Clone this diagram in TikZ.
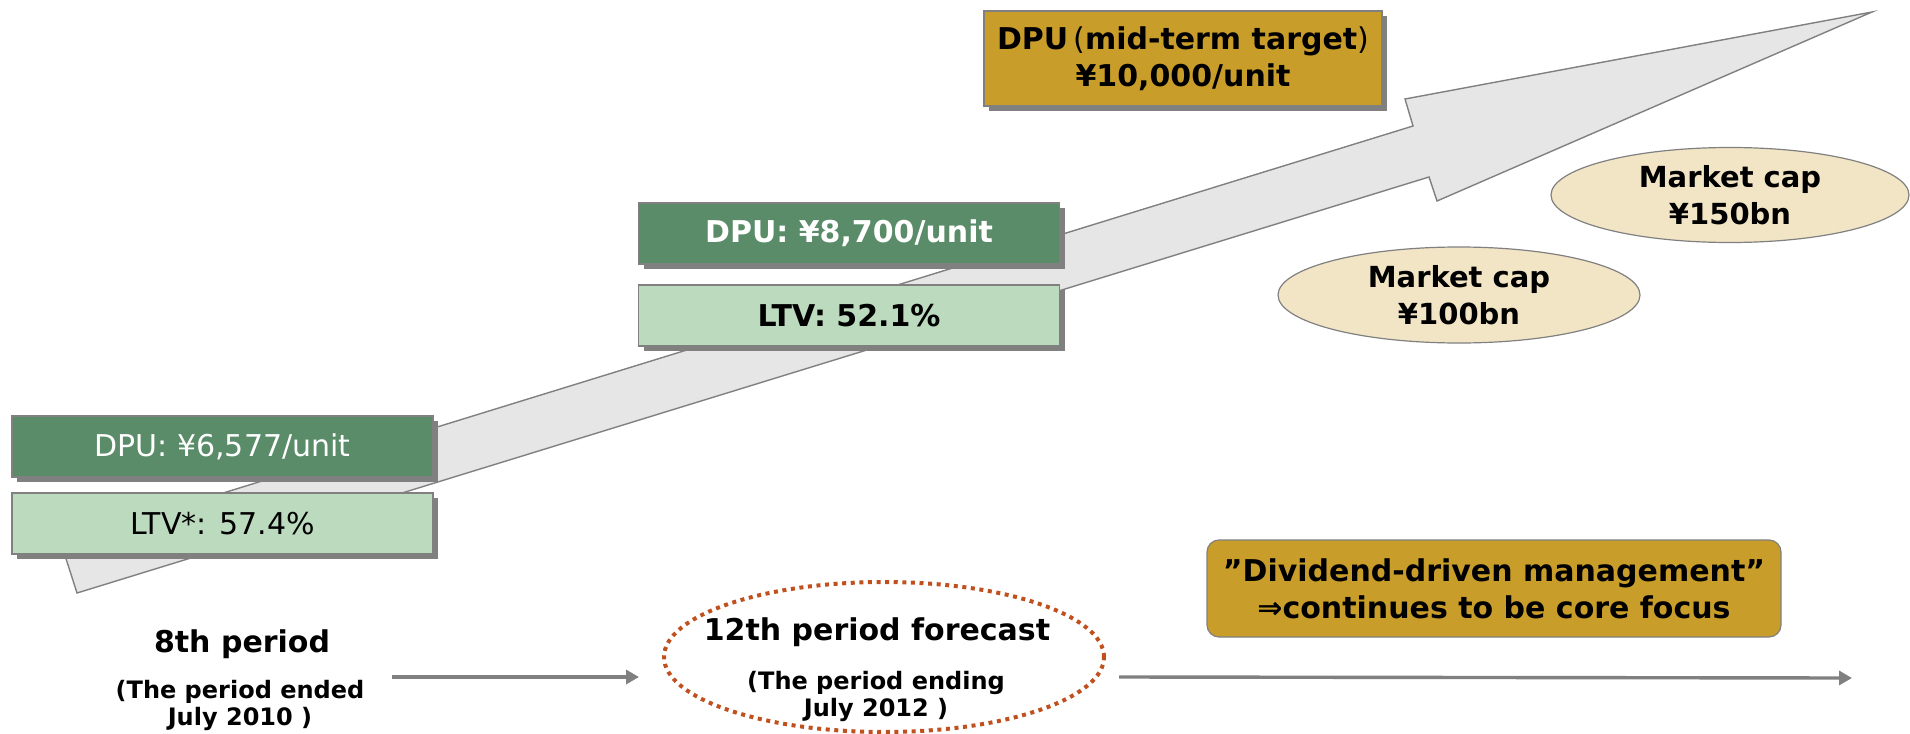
\documentclass[tikz,border=0pt]{standalone}
\usepackage{fontspec}
\setmainfont{DejaVu Sans}
\usetikzlibrary{shapes.geometric,shadows,arrows.meta}
\definecolor{dgreen}{RGB}{91,140,105}
\definecolor{lgreen}{RGB}{188,218,190}
\definecolor{goldc}{RGB}{201,157,41}
\definecolor{wheatc}{RGB}{242,229,197}
\definecolor{edgec}{RGB}{128,128,128}
\definecolor{rustc}{RGB}{192,80,30}
\definecolor{arrowfill}{RGB}{230,230,230}
\begin{document}
\begin{tikzpicture}[x=0.5pt,y=-0.5pt,
  shadowed/.style={drop shadow={shadow xshift=2.5pt,shadow yshift=-2.5pt,fill=edgec,opacity=1}},
  valbox/.style={rectangle, draw=edgec, line width=0.6pt, minimum width=210.5pt,
    minimum height=30.5pt, inner sep=0pt, shadowed},
  regtext/.style={font=\fontsize{15}{18}\selectfont},
  boldtext/.style={font=\bfseries\fontsize{15}{18.5}\selectfont},
  smalltext/.style={font=\bfseries\fontsize{12}{13.5}\selectfont},
  capell/.style={ellipse, draw=edgec, line width=0.6pt, fill=wheatc, inner sep=0pt,
    align=center, font=\bfseries\fontsize{14.5}{18.5}\selectfont},
  timeline/.style={draw=edgec, line width=1.7pt, -{Triangle[length=6.5pt,width=7pt]}}
]
\useasboundingbox (0,0) rectangle (1910,733);

% big rising arrow
\draw[draw=edgec, line width=0.7pt, fill=arrowfill]
  (77,593) -- (1429,177) -- (1437,201) -- (1872,12) -- (1405,99) -- (1413,126) -- (61,543) -- cycle;

% 8th period boxes
\node[valbox, fill=dgreen, text=white, regtext] (dpu8) at (222.5,446.5) {DPU: ¥6,577/unit};
\node[valbox, fill=lgreen, regtext] (ltv8) at (222.5,523.5) {LTV*: 57.4\%};

% 12th period boxes
\node[valbox, fill=dgreen, text=white, boldtext] (dpu12) at (849,233.5) {DPU: ¥8,700/unit};
\node[valbox, fill=lgreen, boldtext] (ltv12) at (849,315.5) {LTV: 52.1\%};

% mid-term target
\node[rectangle, draw=edgec, line width=0.6pt, fill=goldc, minimum width=199pt,
  minimum height=47.5pt, inner sep=0pt, shadowed, boldtext, align=center] (target) at (1183,58.5)
  {DPU\,{\mdseries(}mid-term target{\mdseries)}\\¥10,000/unit};

% market cap ellipses
\node[capell, minimum width=179pt, minimum height=47.5pt] (mc150) at (1730,195) {Market cap\\¥150bn};
\node[capell, minimum width=181pt, minimum height=48pt] (mc100) at (1459,295) {Market cap\\¥100bn};

% dividend box
\node[rectangle, rounded corners=6pt, draw=edgec, line width=0.6pt, fill=goldc,
  minimum width=287pt, minimum height=48.5pt, inner sep=0pt, boldtext, align=center] (div) at (1494,588.5)
  {”Dividend-driven management”\\⇒continues to be core focus};

% timeline labels
\node[boldtext] (p8) at (242,644) {8th period};
\node[smalltext, align=center] (p8sub) at (240,705) {(The period ended\\July 2010 )};

\node[ellipse, draw=rustc, line width=2pt, dash pattern=on 2pt off 2.3pt,
  minimum width=220pt, minimum height=75pt, inner sep=0pt] (fc12) at (884,657) {};
\node[boldtext] (p12) at (877,632) {12th period forecast};
\node[smalltext, align=center] (p12sub) at (876,696) {(The period ending\\July 2012 )};

% timeline arrows
\coordinate (t1s) at (392,677);
\coordinate (t1e) at (639,677);
\coordinate (t2s) at (1119,677);
\coordinate (t2e) at (1852,678);
\draw[timeline] (t1s) -- (t1e);
\draw[timeline] (t2s) -- (t2e);
\end{tikzpicture}
\end{document}
